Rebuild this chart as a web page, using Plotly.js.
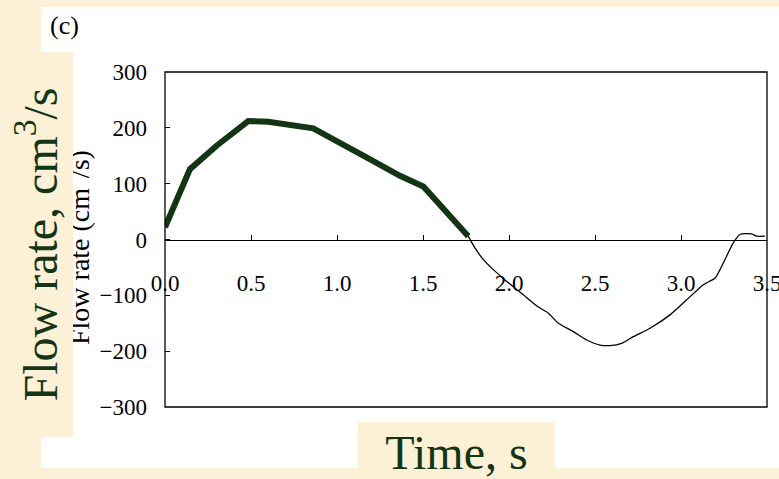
<!DOCTYPE html>
<html>
<head>
<meta charset="utf-8">
<script src="https://cdn.plot.ly/plotly-3.0.1.min.js"></script>
<style>html,body{margin:0;padding:0;background:#fcf0d7;}</style>
</head>
<body>
<div id="chart" style="width:779px;height:479px;"></div>
<script>
// Thick segment (fitted, 0 – 1.75 s)
var fitTime = [0.0, 0.145, 0.30, 0.484, 0.60, 0.862, 1.19, 1.366, 1.502, 1.763];
var fitFlow = [22, 126, 168, 212, 211, 199, 144, 114, 95, 6];

// Thin measured curve (1.75 – 3.5 s)
var measTime = [1.763, 1.80, 1.851, 1.909, 1.987, 2.083, 2.171, 2.229, 2.287, 2.374, 2.452, 2.529, 2.587, 2.655, 2.723, 2.820, 2.936, 3.033, 3.130, 3.198, 3.246, 3.304, 3.343, 3.411, 3.44, 3.488];
var measFlow = [6, -14, -36, -54, -75, -99, -121, -132, -150, -165, -180, -189, -190, -186, -174, -159, -135, -108, -81, -69, -42, -6, 9, 10, 6, 6];

var xTicks = [0, 0.5, 1.0, 1.5, 2.0, 2.5, 3.0, 3.5];
var xTickText = ["0.0", "0.5", "1.0", "1.5", "2.0", "2.5", "3.0", "3.5"];
var yTicks = [-300, -200, -100, 0, 100, 200, 300];
var yTickText = ["\u2212300", "\u2212200", "\u2212100", "0", "100", "200", "300"];

var serif = "Liberation Serif, Times New Roman, serif";
var cream = "#fcf0d7";
var green = "#143514";

var L = 165, R = 767, T = 72, B = 407;
function fx(px) { return (px - L) / (R - L); }
function fy(py) { return (B - py) / (B - T); }

var traces = [
  {x: measTime, y: measFlow, type: "scatter", mode: "lines",
   line: {color: "#000000", width: 1.3, shape: "spline", smoothing: 0.6}, hoverinfo: "skip"},
  {x: fitTime, y: fitFlow, type: "scatter", mode: "lines",
   line: {color: green, width: 6}, hoverinfo: "skip"}
];

var layout = {
  width: 779, height: 479,
  margin: {l: L, r: 779 - R, t: T, b: 479 - B, pad: 0},
  paper_bgcolor: cream,
  plot_bgcolor: "rgba(0,0,0,0)",
  showlegend: false,
  font: {family: serif, color: "#000000", size: 23},
  xaxis: {
    range: [0, 3.5], anchor: "free", position: 0.5,
    tickvals: xTicks, ticktext: xTickText,
    ticks: "inside", ticklen: 5, tickwidth: 1, tickcolor: "#000",
    showline: true, linecolor: "#000", linewidth: 1,
    showgrid: false, zeroline: false,
    ticklabelstandoff: 23, ticklabeloverflow: "allow",
    tickfont: {family: serif, size: 23, color: "#000"}
  },
  yaxis: {
    range: [-300, 300],
    tickvals: yTicks, ticktext: yTickText,
    ticks: "inside", ticklen: 5, tickwidth: 1, tickcolor: "#000",
    showline: false, showgrid: false, zeroline: false,
    ticklabelstandoff: 17, ticklabeloverflow: "allow",
    tickfont: {family: serif, size: 23, color: "#000"}
  },
  shapes: [
    {type: "rect", layer: "below", xref: "paper", yref: "paper",
     x0: fx(41), x1: fx(800), y0: fy(468), y1: fy(7),
     fillcolor: "#ffffff", line: {width: 0}},
    {type: "rect", layer: "above", xref: "paper", yref: "paper",
     x0: 0, x1: 1, y0: 0, y1: 1,
     fillcolor: "rgba(0,0,0,0)", line: {color: "#000", width: 1.3}}
  ],
  annotations: [
    {text: "(c)", xref: "paper", yref: "paper", x: fx(64.5), y: fy(25),
     xanchor: "center", yanchor: "middle", showarrow: false,
     font: {family: serif, size: 26, color: "#000"}},
    {text: "Flow rate (cm<span style='color:#ffffff'><sup>3</sup></span>/s)",
     xref: "paper", yref: "paper", x: fx(77.5), y: fy(247.5),
     xanchor: "center", yanchor: "middle", showarrow: false, textangle: -90,
     font: {family: serif, size: 28, color: "#000"}},
    {text: "Flow rate, cm<sup>3</sup>/s",
     xref: "paper", yref: "paper", x: fx(36.5), y: fy(244.5),
     xanchor: "center", yanchor: "middle", showarrow: false, textangle: -90,
     width: 385, height: 73, bgcolor: cream, borderpad: 0, borderwidth: 0,
     font: {family: serif, size: 48, color: green}},
    {text: "Time, s",
     xref: "paper", yref: "paper", x: fx(456.5), y: fy(450.5),
     xanchor: "center", yanchor: "middle", showarrow: false,
     width: 197, height: 57, bgcolor: cream, borderpad: 0, borderwidth: 0,
     valign: "bottom",
     font: {family: serif, size: 48, color: green}}
  ]
};

Plotly.newPlot("chart", traces, layout, {displayModeBar: false, staticPlot: true});
</script>
</body>
</html>
